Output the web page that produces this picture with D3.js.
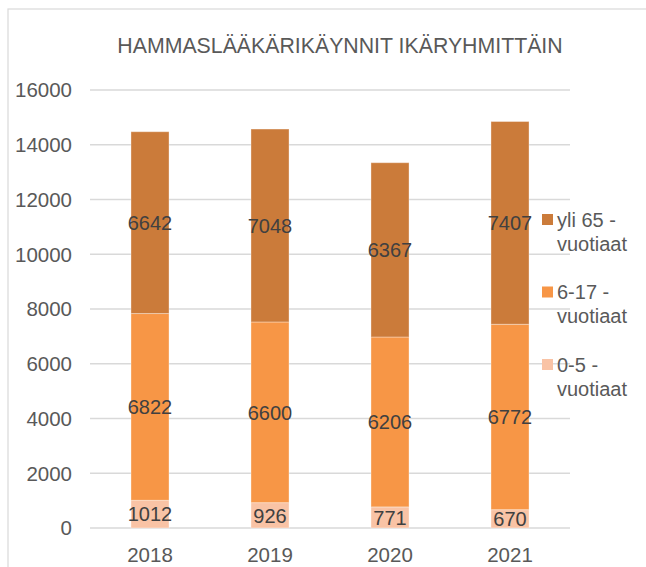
<!DOCTYPE html>
<html>
<head>
<meta charset="utf-8">
<script src="https://cdn.jsdelivr.net/npm/d3@7"></script>
<style>
  html, body { margin: 0; padding: 0; background: #fff; }
  svg { display: block; font-family: "Liberation Sans", Arial, sans-serif; }
</style>
</head>
<body>
<svg id="chart" width="646" height="567"></svg>
<script>
// ---- data ----
const years = ["2018", "2019", "2020", "2021"];
const age0to5 = [1012, 926, 771, 670];
const age6to17 = [6822, 6600, 6206, 6772];
const over65 = [6642, 7048, 6367, 7407];
const seriesNames = ["0-5 - vuotiaat", "6-17 - vuotiaat", "yli 65 - vuotiaat"];
const yTicks = [0, 2000, 4000, 6000, 8000, 10000, 12000, 14000, 16000];
const title = "HAMMASLÄÄKÄRIKÄYNNIT IKÄRYHMITTÄIN";

const colors = ["#f9c3a5", "#f79646", "#cb7b3a"];
const textGrey = "#595959";

const svg = d3.select("#chart");

// chart frame
svg.append("rect")
  .attr("x", 8).attr("y", 9)
  .attr("width", 800).attr("height", 800)
  .attr("fill", "none")
  .attr("stroke", "#d9d9d9")
  .attr("stroke-width", 1.2);

// ---- scales ----
const x = d3.scaleBand().domain(years).range([90, 570]).paddingInner(0.683).paddingOuter(0.3415);
const y = d3.scaleLinear().domain([0, 16000]).range([528, 90]);

// gridlines
svg.append("g").selectAll("line")
  .data(yTicks)
  .join("line")
  .attr("x1", 90).attr("x2", 570)
  .attr("y1", d => y(d)).attr("y2", d => y(d))
  .attr("stroke", "#d9d9d9")
  .attr("stroke-width", 1.5);

// y labels
svg.append("g").selectAll("text")
  .data(yTicks)
  .join("text")
  .attr("x", 72)
  .attr("y", d => y(d))
  .attr("dy", "0.36em")
  .attr("text-anchor", "end")
  .attr("font-size", 20.5)
  .attr("fill", textGrey)
  .text(d => d);

// x labels
svg.append("g").selectAll("text")
  .data(years)
  .join("text")
  .attr("x", d => x(d) + x.bandwidth() / 2)
  .attr("y", 562)
  .attr("text-anchor", "middle")
  .attr("font-size", 20.5)
  .attr("fill", textGrey)
  .text(d => d);

// ---- stacked bars ----
const rows = years.map((yr, i) => ({ year: yr, a: age0to5[i], b: age6to17[i], c: over65[i] }));
const stacked = d3.stack().keys(["a", "b", "c"])(rows);

const layers = svg.append("g").selectAll("g")
  .data(stacked)
  .join("g")
  .attr("fill", (d, i) => colors[i]);

layers.selectAll("rect")
  .data(d => d)
  .join("rect")
  .attr("x", d => x(d.data.year))
  .attr("width", x.bandwidth())
  .attr("y", d => y(d[1]))
  .attr("height", d => y(d[0]) - y(d[1]))
  .attr("stroke", "#fff")
  .attr("stroke-opacity", 0.35)
  .attr("stroke-width", 1);

// data labels
layers.selectAll("text")
  .data(d => d.map(p => ({ p, v: p[1] - p[0] })))
  .join("text")
  .attr("x", d => x(d.p.data.year) + x.bandwidth() / 2)
  .attr("y", d => y((d.p[0] + d.p[1]) / 2))
  .attr("dy", "0.36em")
  .attr("text-anchor", "middle")
  .attr("font-size", 20)
  .attr("fill", "#404040")
  .text(d => d.v);

// title
svg.append("text")
  .attr("x", 340)
  .attr("y", 53)
  .attr("text-anchor", "middle")
  .attr("font-size", 21.3)
  .attr("fill", textGrey)
  .text(title);

// ---- legend (top entry = last series) ----
const legendOrder = [2, 1, 0];
const legend = svg.append("g").selectAll("g")
  .data(legendOrder)
  .join("g")
  .attr("transform", (d, i) => `translate(542, ${214 + i * 72.5})`);

legend.append("rect")
  .attr("width", 11).attr("height", 11)
  .attr("fill", d => colors[d]);

legend.append("text")
  .attr("x", 15)
  .attr("y", 12.5)
  .attr("font-size", 20)
  .attr("fill", textGrey)
  .selectAll("tspan")
  .data(d => {
    const name = seriesNames[d];
    const cut = name.lastIndexOf(" ");
    return [name.slice(0, cut), name.slice(cut + 1)];
  })
  .join("tspan")
  .attr("x", 15)
  .attr("dy", (d, i) => i === 0 ? 0 : 24)
  .text(d => d);
</script>
</body>
</html>
